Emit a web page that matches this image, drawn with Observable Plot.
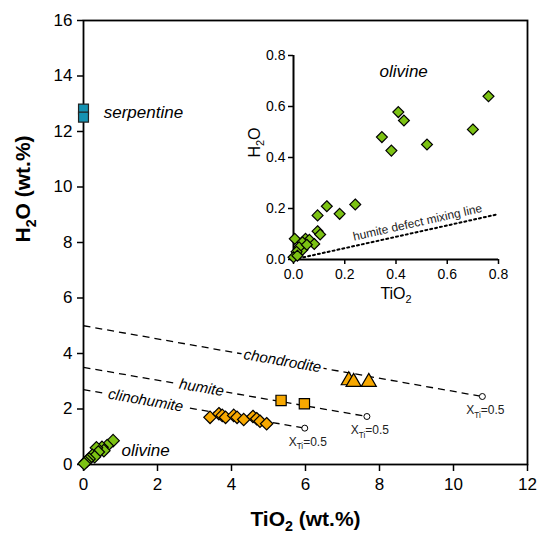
<!DOCTYPE html>
<html><head><meta charset="utf-8">
<script src="https://cdn.jsdelivr.net/npm/d3@7"></script>
<script src="https://cdn.jsdelivr.net/npm/@observablehq/plot@0.6"></script>
<style>
html,body{margin:0;padding:0;background:#fff;overflow:hidden;}
#wrap{position:relative;width:539px;height:537px;}
#inset{position:absolute;left:225px;top:45px;}
</style></head><body><div id="wrap"><div id="main"></div><div id="inset"></div></div>
<script>
const FONT = "'Liberation Sans', Arial, Helvetica, sans-serif";

// ---- data (TiO2 wt.%, H2O wt.%) ----
const serpentineX = [0, 0];
const serpentineY = [12.81, 12.52];
const chondroditeX = [7.17, 7.30, 7.71];
const chondroditeY = [3.03, 2.97, 2.97];
const humiteX = [5.34, 5.97];
const humiteY = [2.31, 2.19];
const clinohumiteX = [3.42, 3.66, 3.75, 3.84, 4.06, 4.15, 4.33, 4.58, 4.68, 4.77, 4.95];
const clinohumiteY = [1.70, 1.83, 1.77, 1.70, 1.77, 1.70, 1.62, 1.73, 1.65, 1.56, 1.47];
const olivineMainX = [0.80, 0.64, 0.50, 0.55, 0.35, 0.40, 0.24, 0.30, 0.15, 0.10, 0.05, 0.02];
const olivineMainY = [0.86, 0.68, 0.62, 0.50, 0.60, 0.45, 0.33, 0.28, 0.20, 0.14, 0.08, 0.03];
const olivineInsetX = [0.761, 0.409, 0.431, 0.700, 0.345, 0.382, 0.521, 0.241, 0.130, 0.094, 0.180, 0.094, 0.104, 0.005, 0.047, 0.062, 0.081, 0.035, 0.035, 0.022, 0.012, 0.000, 0.052, 0.015];
const olivineInsetY = [0.640, 0.578, 0.545, 0.510, 0.480, 0.427, 0.451, 0.216, 0.209, 0.173, 0.179, 0.111, 0.098, 0.081, 0.081, 0.077, 0.061, 0.068, 0.038, 0.048, 0.030, 0.009, 0.058, 0.015];
// mixing lines: start (XTi=0) and end (XTi=0.5)
const lineNames = ["chondrodite", "humite", "clinohumite"];
const lineX0 = [0, 0, 0];
const lineY0 = [5.0, 3.5, 2.7];
const lineX1 = [10.78, 7.66, 5.98];
const lineY1 = [2.45, 1.73, 1.31];
const lineLabelX = [5.38, 3.19, 1.68];
const lineLabelY = [3.73, 2.77, 2.31];
const endLabel = "X_{Ti}=0.5";
// humite defect mixing line (inset)
const defectX = [0, 0.8];
const defectY = [0, 0.178];
const xTicksMain = [0, 2, 4, 6, 8, 10, 12];
const yTicksMain = [0, 2, 4, 6, 8, 10, 12, 14, 16];
const ticksInset = [0, 0.2, 0.4, 0.6, 0.8];

const zip = (xs, ys) => xs.map((x, i) => ({x, y: ys[i]}));
const lines = lineNames.map((n, i) => ({name: n, x0: lineX0[i], y0: lineY0[i], x1: lineX1[i], y1: lineY1[i], lx: lineLabelX[i], ly: lineLabelY[i]}));

const GREEN = "#7cc213", ORANGE = "#f7a800", TEAL = "#1592b2";

const main = Plot.plot({
  width: 539, height: 537,
  marginLeft: 83, marginRight: 12, marginTop: 20, marginBottom: 73,
  style: {fontFamily: FONT, background: "white", color: "black"},
  x: {domain: [0, 12]},
  y: {domain: [0, 16]},
  marks: [
    Plot.axisX({ticks: xTicksMain, tickSize: 7, tickPadding: 6, fontSize: 17, strokeWidth: 1.5, label: null}),
    Plot.axisY({ticks: yTicksMain, tickSize: 6, tickPadding: 5, fontSize: 17, strokeWidth: 1.5, label: null}),
    Plot.frame({strokeWidth: 1.8}),
    Plot.link(lines, {x1: "x0", y1: "y0", x2: "x1", y2: "y1", stroke: "black", strokeWidth: 1.3, strokeDasharray: "7,5"}),
    Plot.text(lines, {x: "lx", y: "ly", text: "name", rotate: 10, fontSize: 15, fontStyle: "italic", fill: "black", stroke: "white", strokeWidth: 6}),
    Plot.dot(lines, {x: "x1", y: "y1", r: 3, fill: "white", stroke: "black", strokeWidth: 1}),
    Plot.text(lines, {x: "x1", y: "y1", text: () => endLabel, dx: 3, dy: 14, fontSize: 12, fill: "#222"}),
    Plot.dot(zip(serpentineX, serpentineY), {x: "x", y: "y", symbol: "square", r: 5.6, fill: TEAL, stroke: "#222", strokeWidth: 1.2}),
    Plot.dot(zip(chondroditeX, chondroditeY), {x: "x", y: "y", symbol: "triangle", r: 5.6, fill: ORANGE, stroke: "black", strokeWidth: 1.2}),
    Plot.dot(zip(humiteX, humiteY), {x: "x", y: "y", symbol: "square", r: 5.8, fill: ORANGE, stroke: "black", strokeWidth: 1.2}),
    Plot.dot(zip(clinohumiteX, clinohumiteY), {x: "x", y: "y", symbol: "diamond2", r: 5.6, fill: ORANGE, stroke: "black", strokeWidth: 1.2}),
    Plot.dot(zip(olivineMainX, olivineMainY), {x: "x", y: "y", symbol: "diamond2", r: 5.6, fill: GREEN, stroke: "black", strokeWidth: 1.2}),
    Plot.text(["serpentine"], {x: 1.62, y: 12.7, fontSize: 17, fontStyle: "italic"}),
    Plot.text(["olivine"], {x: 1.68, y: 0.5, fontSize: 17, fontStyle: "italic"}),
    Plot.text(["TiO_{2} (wt.%)"], {frameAnchor: "bottom", dy: 61, fontSize: 21, fontWeight: "bold"}),
    Plot.text(["H_{2}O (wt.%)"], {frameAnchor: "left", dx: -60, rotate: -90, fontSize: 21, fontWeight: "bold"})
  ]
});
document.getElementById("main").appendChild(main);

const inset = Plot.plot({
  width: 288, height: 259,
  marginLeft: 68, marginRight: 15, marginTop: 10, marginBottom: 45,
  style: {fontFamily: FONT, background: "transparent", color: "black"},
  x: {domain: [0, 0.8]},
  y: {domain: [0, 0.8]},
  marks: [
    Plot.axisX({ticks: ticksInset, tickFormat: d3.format(".1f"), tickSize: 5, tickPadding: 5, fontSize: 14, strokeWidth: 1.5, label: null}),
    Plot.axisY({ticks: ticksInset, tickFormat: d3.format(".1f"), tickSize: 5, tickPadding: 3, fontSize: 14, strokeWidth: 1.5, label: null}),
    Plot.ruleX([0], {strokeWidth: 2}),
    Plot.ruleY([0], {strokeWidth: 2}),
    Plot.line(zip(defectX, defectY), {x: "x", y: "y", stroke: "black", strokeWidth: 2, strokeDasharray: "2,3"}),
    Plot.text(["humite defect mixing line"], {x: 0.484, y: 0.145, rotate: -12.6, fontSize: 12, fill: "#222"}),
    Plot.dot(zip(olivineInsetX, olivineInsetY), {x: "x", y: "y", symbol: "diamond2", r: 4.9, fill: GREEN, stroke: "black", strokeWidth: 1.2}),
    Plot.text(["olivine"], {x: 0.43, y: 0.737, fontSize: 17, fontStyle: "italic"}),
    Plot.text(["TiO_{2}"], {frameAnchor: "bottom", dy: 39, fontSize: 16}),
    Plot.text(["H_{2}O"], {frameAnchor: "left", dx: -39, rotate: -90, fontSize: 16})
  ]
});
document.getElementById("inset").appendChild(inset);

function subify(root) {
  root.querySelectorAll("text").forEach(t => {
    const s = t.textContent;
    if (!s.includes("_{")) return;
    const fs = parseFloat(getComputedStyle(t).fontSize) || 12;
    t.textContent = "";
    const re = /_\{([^}]*)\}/g;
    let last = 0, m; const parts = [];
    while ((m = re.exec(s))) {
      if (m.index > last) parts.push([s.slice(last, m.index), false]);
      parts.push([m[1], true]);
      last = re.lastIndex;
    }
    if (last < s.length) parts.push([s.slice(last), false]);
    let shifted = false;
    parts.forEach(([txt, sub]) => {
      const ts = document.createElementNS("http://www.w3.org/2000/svg", "tspan");
      ts.textContent = txt;
      if (sub) { ts.setAttribute("font-size", fs * 0.68); ts.setAttribute("dy", fs * 0.28); shifted = true; }
      else if (shifted) { ts.setAttribute("dy", -fs * 0.28); shifted = false; }
      t.appendChild(ts);
    });
  });
}
subify(main);
subify(inset);
</script></body></html>
